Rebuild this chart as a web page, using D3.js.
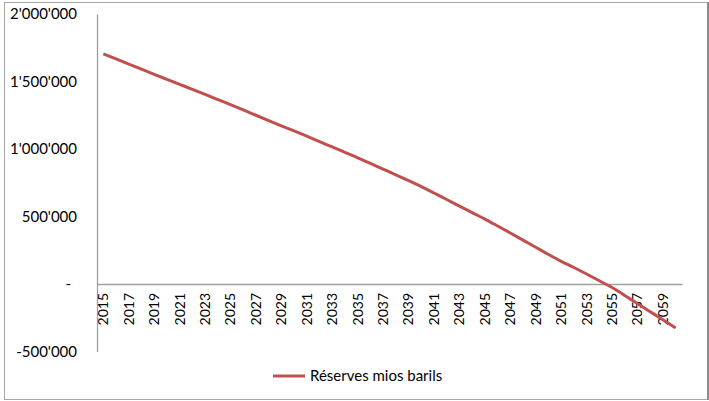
<!DOCTYPE html>
<html>
<head>
<meta charset="utf-8">
<script src="https://cdn.jsdelivr.net/npm/d3@7"></script>
<style>
  html, body { margin: 0; padding: 0; background: #fff; }
  svg { display: block; }
  text { font-family: Lato, "Open Sans", sans-serif; fill: #000; }
</style>
</head>
<body>
<svg id="chart" width="709" height="401"></svg>
<script>
// Years on the category axis
const years = d3.range(2015, 2061);

// Remaining reserves, millions of barrels
const reserves = [
  1704000, 1667000, 1629000, 1591000, 1553000, 1516000, 1479000, 1442000,
  1404000, 1366000, 1328000, 1289000, 1250000, 1211000, 1172000, 1134000,
  1095000, 1055000, 1015000, 975000, 935000, 893000, 851000, 809000,
  766000, 722000, 674000, 626000, 577000, 529000, 481000, 430000,
  378000, 325000, 272000, 219000, 168000, 122000, 74000, 24000,
  -26000, -85000, -145000, -205000, -265000, -326000
];

// Value axis ticks
const yTicks = [-500000, 0, 500000, 1000000, 1500000, 2000000];

const seriesName = "Réserves mios barils";

const svg = d3.select("#chart");

// Outer frame
svg.append("rect")
  .attr("x", 4.5).attr("y", 2.5)
  .attr("width", 703).attr("height", 397)
  .attr("fill", "none")
  .attr("stroke", "#a6a6a6")
  .attr("stroke-width", 1);
svg.append("line")
  .attr("x1", 708).attr("x2", 708)
  .attr("y1", 2).attr("y2", 400)
  .attr("stroke", "#8c8c8c").attr("stroke-width", 2);

const x = d3.scaleBand().domain(years).range([97, 682]).padding(0);
const y = d3.scaleLinear().domain([-500000, 2000000]).range([351.5, 14]);

const fmt = v => {
  if (v === 0) return "-";
  const s = d3.format(",")(v);
  return s.replace(/,/g, "'").replace("−", "-");
};

// Value axis (no tick marks, labels only)
const yAxis = svg.append("g")
  .attr("transform", "translate(97,0)")
  .call(d3.axisLeft(y).tickValues(yTicks).tickSize(0).tickPadding(20).tickFormat(fmt));
yAxis.select(".domain").attr("stroke", "#a0a0a0").attr("stroke-width", 1.3);
yAxis.selectAll("text")
  .style("font-size", "15px")
  .style("font-family", "Lato, sans-serif");
yAxis.selectAll(".tick")
  .filter(d => d === 0)
  .select("text")
  .attr("x", -26);

// Category axis along zero
const xAxis = svg.append("g")
  .attr("transform", `translate(0,${y(0)})`)
  .call(d3.axisBottom(x).tickValues(years.filter((d, i) => i % 2 === 0)).tickSize(0));
xAxis.select(".domain").attr("stroke", "#a0a0a0").attr("stroke-width", 1.3);
xAxis.selectAll("text")
  .style("font-size", "14px")
  .style("font-family", "Lato, sans-serif")
  .attr("text-anchor", "end")
  .attr("dy", "0.35em")
  .attr("transform", "rotate(-90)")
  .attr("x", -9)
  .attr("y", 0);

// Reserves line
const line = d3.line()
  .x((d, i) => x(years[i]) + x.bandwidth() / 2)
  .y(d => y(d))
  .curve(d3.curveMonotoneX);

svg.append("path")
  .datum(reserves)
  .attr("d", line)
  .attr("fill", "none")
  .attr("stroke", "#c0504d")
  .attr("stroke-width", 3)
  .attr("stroke-linejoin", "round");

// Legend
const legend = svg.append("g").attr("transform", "translate(273,376)");
legend.append("line")
  .attr("x1", 0).attr("x2", 32)
  .attr("y1", 0).attr("y2", 0)
  .attr("stroke", "#c0504d").attr("stroke-width", 3);
legend.append("text")
  .attr("x", 37).attr("y", 5)
  .style("font-size", "15px")
  .text(seriesName);
</script>
</body>
</html>
